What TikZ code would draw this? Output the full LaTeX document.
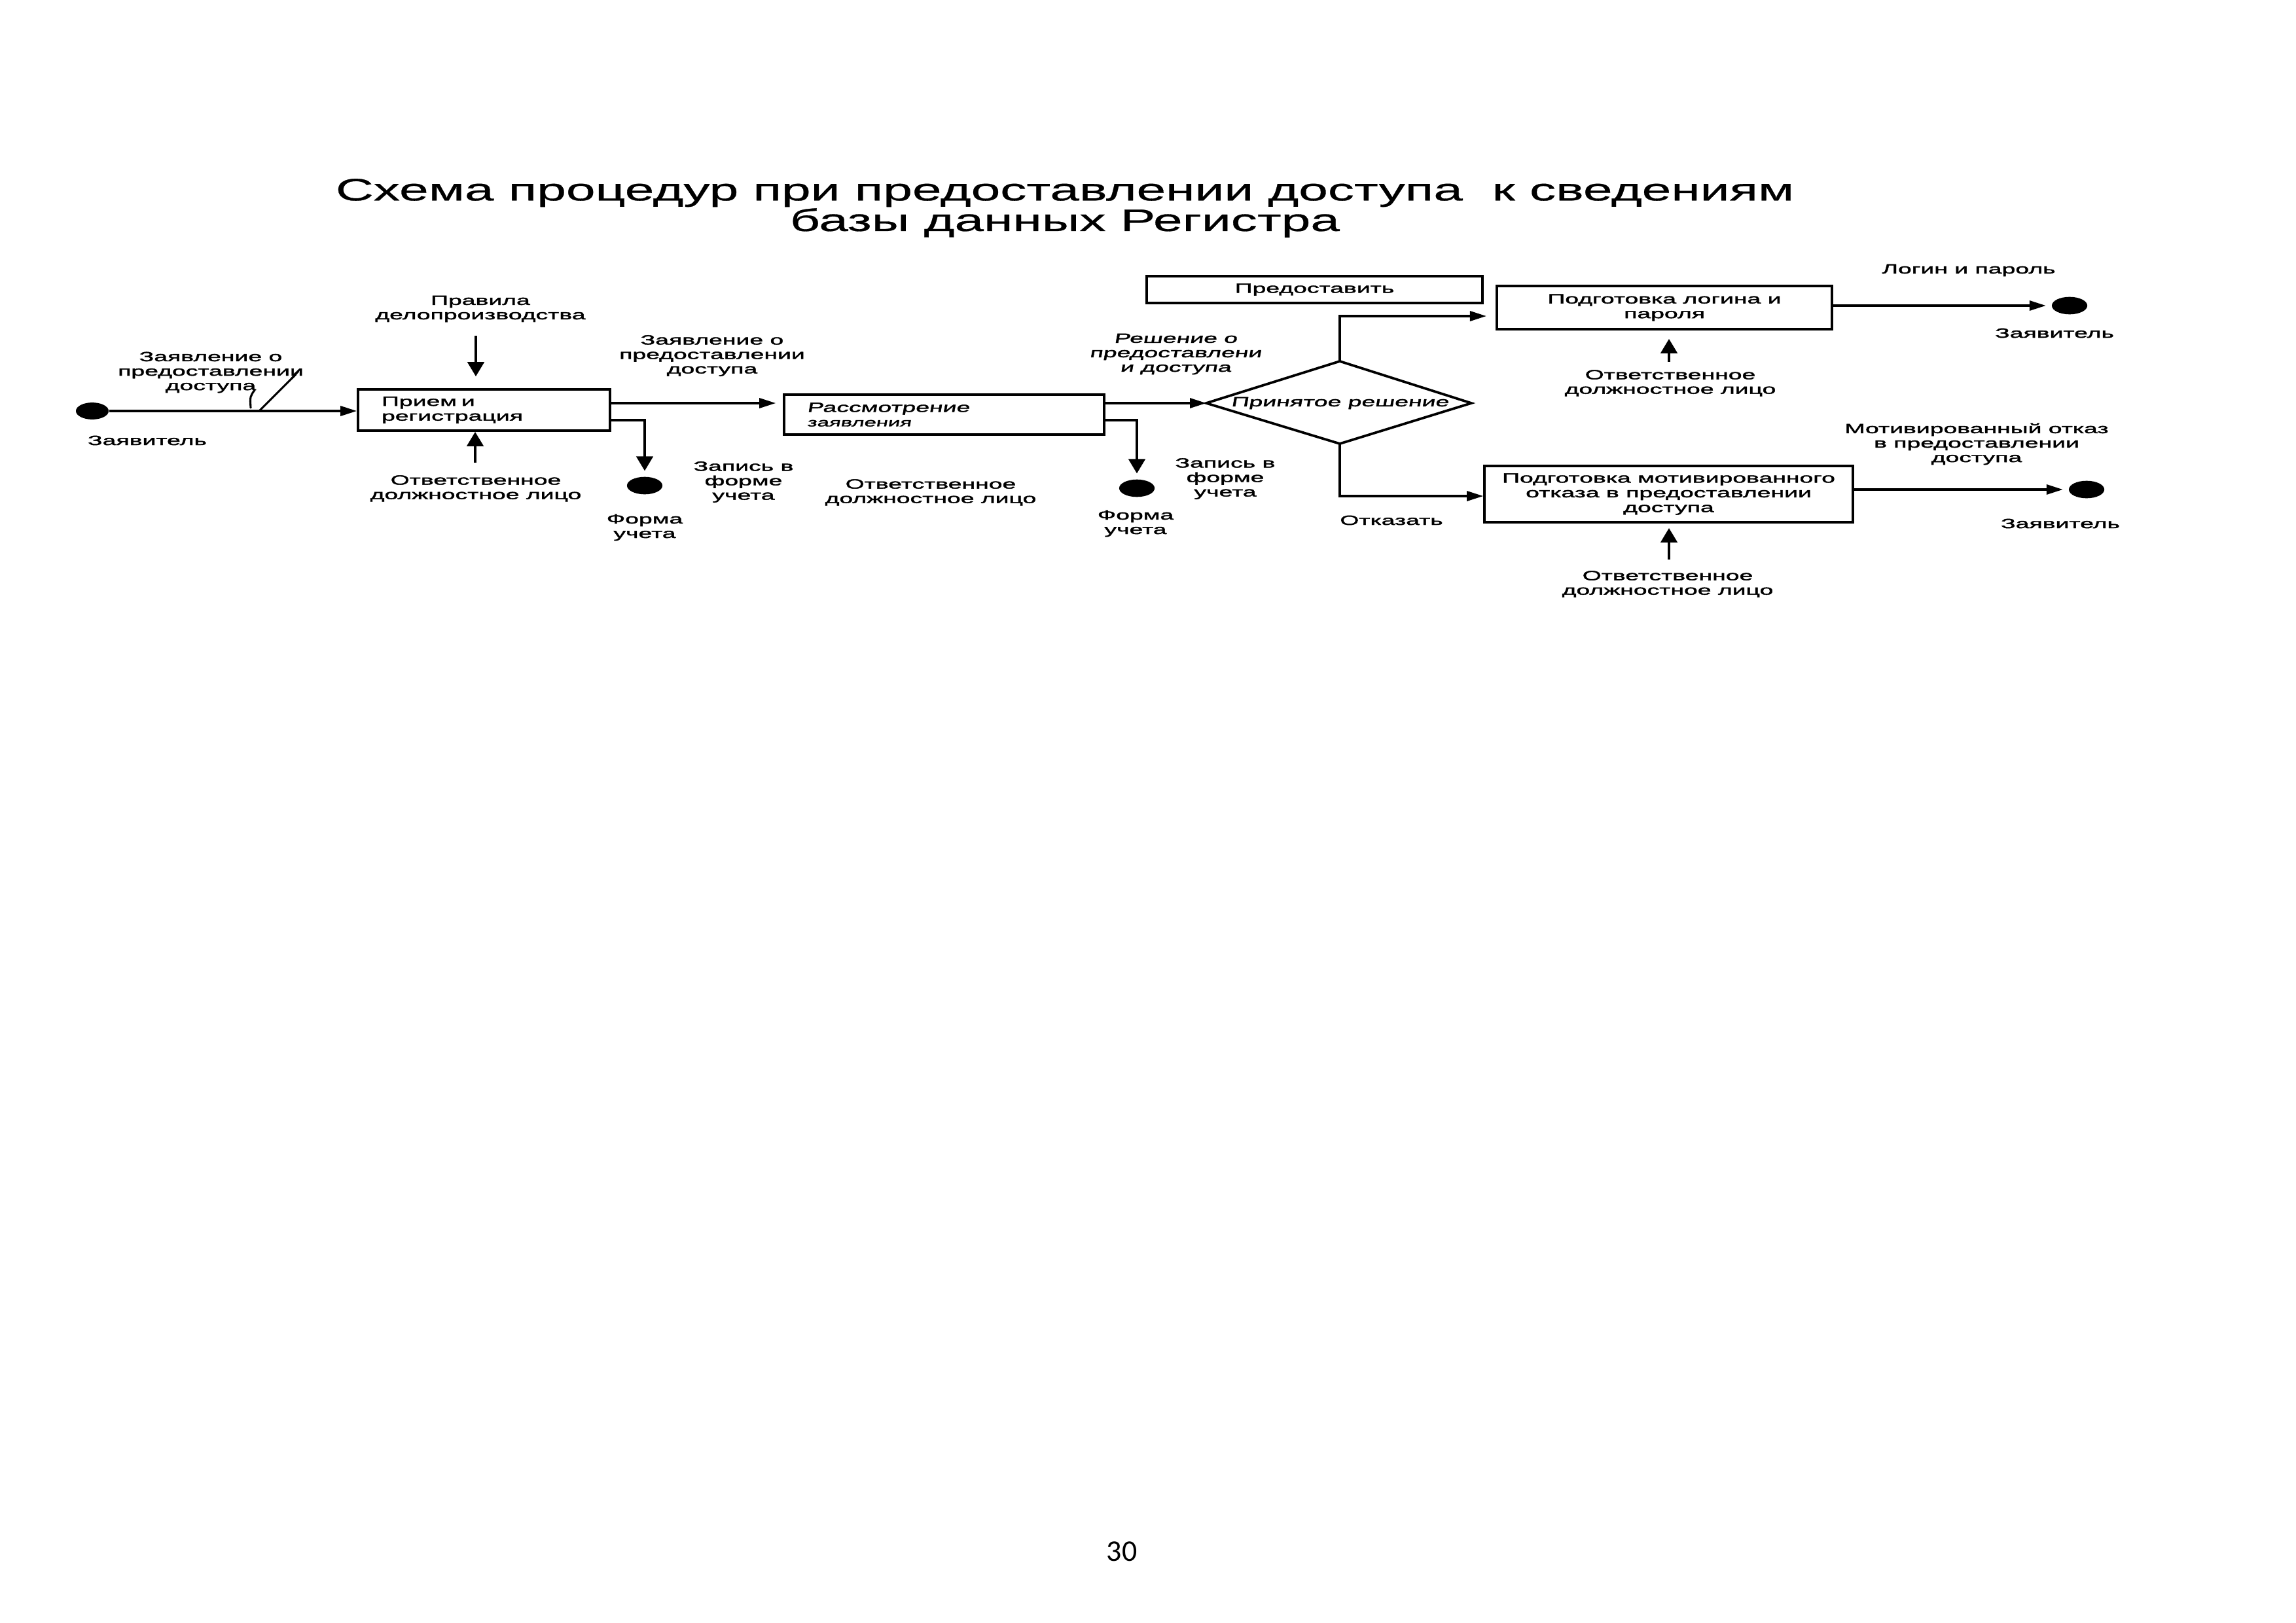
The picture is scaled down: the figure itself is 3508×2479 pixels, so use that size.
\documentclass[tikz,border=0pt]{standalone}
\usepackage{fontspec}
\usetikzlibrary{arrows.meta,shapes.geometric}
\newfontfamily\lblfont[FakeStretch=1.83,FakeBold=2]{Liberation Sans}
\newfontfamily\lblitfont[FakeStretch=1.83,FakeBold=2,FakeSlant=0.18]{Liberation Sans}
\newfontfamily\ttlfont[FakeStretch=1.69,FakeBold=0.6]{Liberation Sans}
\newfontfamily\pagefont{Carlito}
\begin{document}
\begin{tikzpicture}[x=0.24pt,y=-0.24pt,
  lbl/.style={inner sep=0pt, align=center, font=\lblfont\fontsize{4.9}{5.3}\selectfont},
  lblit/.style={inner sep=0pt, align=center, font=\lblitfont\fontsize{4.9}{5.3}\selectfont},
  box/.style={draw, line width=0.9pt, inner ysep=0pt, align=center, font=\lblfont\fontsize{4.9}{5.4}\selectfont},
  dot/.style={ellipse, fill=black, draw=none, inner sep=0pt, minimum width=13pt, minimum height=6.4pt},
  hArr/.style={line width=0.8pt, -{Triangle[length=6pt,width=3.6pt]}},
  vArr/.style={line width=1.1pt, -{Triangle[length=5.3pt,width=6pt]}},
  pen/.style={line width=0.75pt, line cap=round}]
\fill[white] (0,0) rectangle (3508,2479);
\useasboundingbox (0,0) rectangle (3508,2479);

% title
\node[inner sep=0pt, align=center, font=\ttlfont\fontsize{11.4}{11.2}\selectfont] (title) at (1627,318)
  {Схема процедур при предоставлении доступа\ \ к сведениям\\базы данных Регистра};

% left part
\node[dot, minimum width=12pt, minimum height=6.2pt] (s1) at (141,628) {};
\node[lbl] (s1lab) at (225,673) {Заявитель};
\node[lbl] (req1) at (322,569) {Заявление о\\предоставлении\\доступа};
\node[box, minimum width=92.4pt, minimum height=15.1pt, text width=75.1pt, inner xsep=8.6pt, align=left] (b1) at (739.5,626.5) {Прием и\\регистрация};
\draw[hArr] (s1.east) -- (b1.west |- s1.east);
\draw[pen] (452,572) .. controls (432,592) and (412,612) .. (396,628);
\draw[pen] (446,578) -- (456,567);
\draw[pen] (389,596) .. controls (382,606) .. (383,623);

\node[lbl] (rules) at (734,472) {Правила\\делопроизводства};
\coordinate (crules) at (727,513);
\draw[vArr, shorten >=4.3pt] (crules) -- (crules |- b1.north);
\node[lbl] (resp1) at (727,746.5) {Ответственное\\должностное лицо};
\coordinate (cresp1) at (726,707);
\draw[vArr] (cresp1) -- (cresp1 |- b1.south);

% second box
\node[box, font=\lblitfont\fontsize{4.9}{5.3}\selectfont, minimum width=117.4pt, minimum height=14.6pt, text width=100.6pt, inner xsep=8.4pt, align=left] (b2) at (1442.5,633.5) {Рассмотрение\\{\fontsize{4.3}{5.3}\selectfont заявления}};
\coordinate (y616) at (0,616);
\draw[hArr, shorten >=2.6pt] (b1.east |- y616) -- (b2.west |- y616);
\node[lbl] (req2) at (1088,543.5) {Заявление о\\предоставлении\\доступа};

\node[dot] (f1) at (985,742) {};
\node[lbl] (f1lab) at (985,806) {Форма\\учета};
\coordinate (k1) at (983,642);
\draw[vArr, shorten >=2pt] (b1.east |- k1) -| (f1.north);
\node[lbl] (rec1) at (1136,736.5) {Запись в\\форме\\учета};
\node[lbl] (resp2) at (1422,752.5) {Ответственное\\должностное лицо};

% decision
\coordinate (decW) at (1843,616);
\coordinate (decN) at (2047,552);
\coordinate (decE) at (2248,616);
\coordinate (decS) at (2047,678);
\draw[line width=0.9pt, line join=miter] (decW) -- (decN) -- (decE) -- (decS) -- cycle;
\node[lblit] (dec) at (2047,616) {Принятое решение};
\draw[hArr] (b2.east |- decW) -- (decW);
\node[lblit] (decl) at (1796,541) {Решение о\\предоставлени\\и доступа};

\node[dot] (f2) at (1737,746) {};
\node[lbl] (f2lab) at (1735,800) {Форма\\учета};
\coordinate (k2) at (1738,642);
\draw[vArr, shorten >=2pt] (b2.east |- k2) -| (f2.north);
\node[lbl] (rec2) at (1872,731.5) {Запись в\\форме\\учета};

\node[box, minimum width=123.1pt, minimum height=9.84pt] (give) at (2008.5,442.5) {Предоставить};

% right boxes
\node[box, minimum width=122.9pt, minimum height=15.84pt] (b3) at (2543,470) {Подготовка логина и\\пароля};
\node[box, minimum width=135.1pt, minimum height=20.6pt] (b4) at (2549.5,755) {Подготовка мотивированного\\отказа в предоставлении\\доступа};
\coordinate (k3) at (2047,483);
\draw[hArr, shorten >=3.4pt] (decN) |- (b3.west |- k3);
\coordinate (k4) at (2047,758);
\draw[hArr] (decS) |- (b4.west |- k4);
\node[lbl] (refuse) at (2126,795) {Отказать};

\node[dot] (d3) at (3162,467) {};
\node[dot] (d4) at (3188,748) {};
\draw[hArr, shorten >=2pt] (b3.east |- d3) -- (d3.west);
\draw[hArr, shorten >=2pt] (b4.east |- d4) -- (d4.west);
\node[lbl] (login) at (3008,413) {Логин и пароль};
\node[lbl] (z3) at (3139,509) {Заявитель};
\node[lbl] (mot) at (3020,678.5) {Мотивированный отказ\\в предоставлении\\доступа};
\node[lbl] (z4) at (3148,800) {Заявитель};

\node[lbl] (resp3) at (2552,585.5) {Ответственное\\должностное лицо};
\coordinate (c3) at (2550,553);
\draw[vArr, shorten >=3.1pt] (c3) -- (c3 |- b3.south);
\node[lbl] (resp4) at (2548,892.5) {Ответственное\\должностное лицо};
\coordinate (c4) at (2550,855);
\draw[vArr, shorten >=1.7pt] (c4) -- (c4 |- b4.south);

\node[inner sep=0pt, font=\pagefont\fontsize{11}{13}\selectfont] (pg) at (1714,2371) {30};
\end{tikzpicture}
\end{document}
